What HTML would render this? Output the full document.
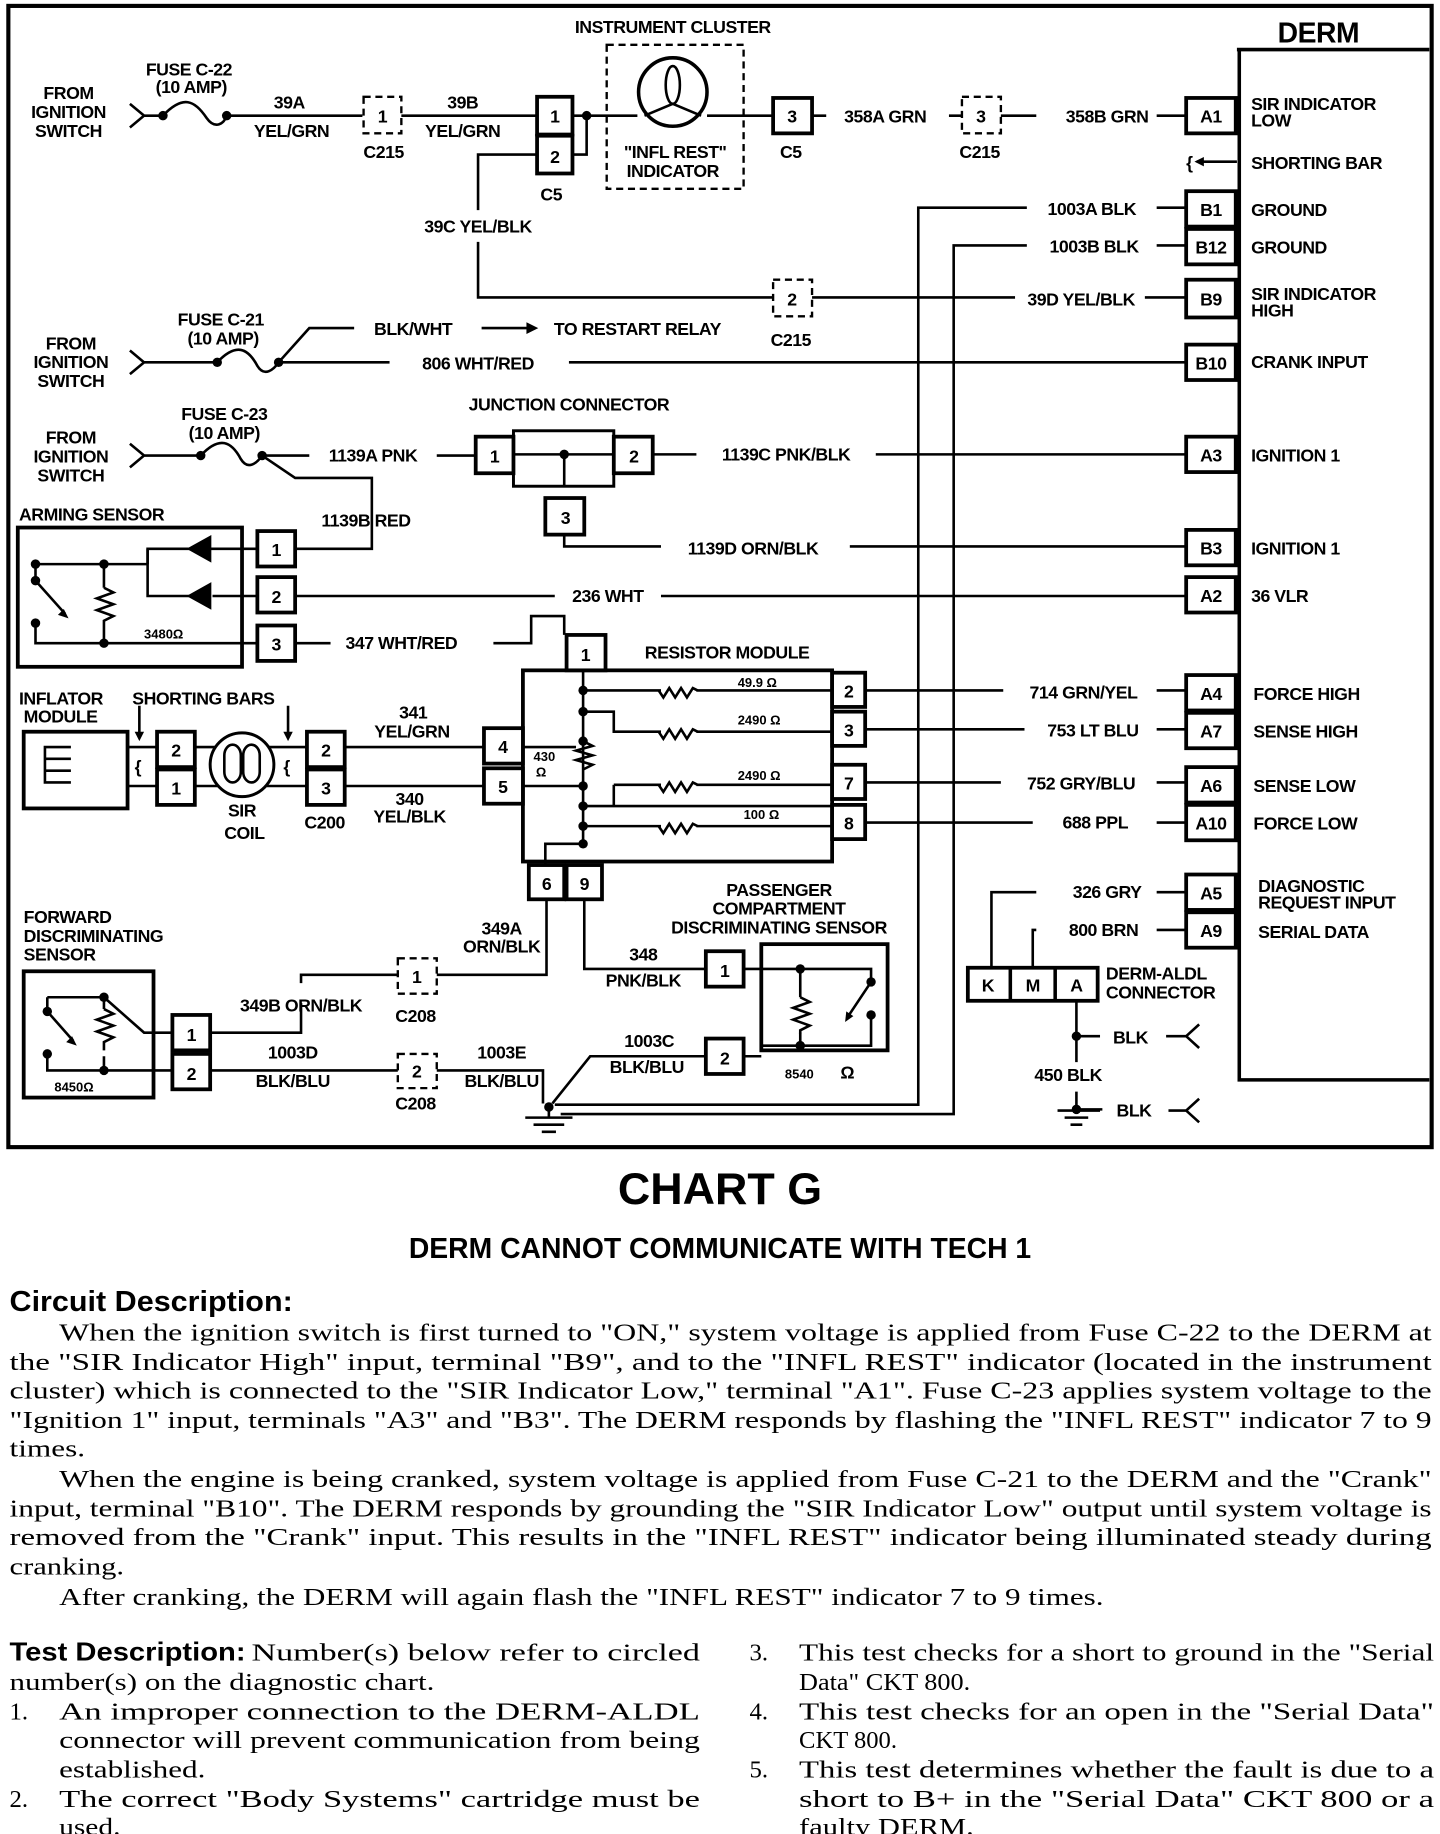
<!DOCTYPE html>
<html><head><meta charset="utf-8"><style>
html,body{margin:0;padding:0;background:#fff}
svg{display:block}
.t{font-family:"Liberation Sans",sans-serif;font-weight:bold;font-size:15px;letter-spacing:-0.4px;fill:#000}
.s{font-family:"Liberation Sans",sans-serif;font-weight:bold;font-size:12px;fill:#000}
.p{font-family:"Liberation Serif",serif;font-size:21px;fill:#000}
.w{stroke:#000;stroke-width:2.2;fill:none}
.bx{stroke:#000;stroke-width:3.2;fill:#fff}
.d{stroke:#000;stroke-width:2;fill:none;stroke-dasharray:6 4}
</style></head><body>
<svg width="1440" height="1834" viewBox="0 0 1220 1554" xmlns="http://www.w3.org/2000/svg">
<rect x="0" y="0" width="1220" height="1554" fill="#fff"/>
<rect x="7" y="5" width="1206" height="967" fill="none" stroke="#000" stroke-width="3.5"/>
<text x="1117" y="36" text-anchor="middle" class="t" style="font-size:24px">DERM</text>
<path d="M1048 42 H1211 M1050 42 V915 H1211" stroke="#000" stroke-width="3" fill="none"/>
<g class="t">
<text x="1060" y="93">SIR INDICATOR</text><text x="1060" y="107">LOW</text>
<text x="1060" y="143">SHORTING BAR</text>
<text x="1060" y="183">GROUND</text><text x="1060" y="215">GROUND</text>
<text x="1060" y="254">SIR INDICATOR</text><text x="1060" y="268">HIGH</text>
<text x="1060" y="312">CRANK INPUT</text>
<text x="1060" y="391">IGNITION 1</text>
<text x="1060" y="470">IGNITION 1</text>
<text x="1060" y="510">36 VLR</text>
<text x="1062" y="593">FORCE HIGH</text>
<text x="1062" y="625">SENSE HIGH</text>
<text x="1062" y="671">SENSE LOW</text>
<text x="1062" y="703">FORCE LOW</text>
<text x="1066" y="756">DIAGNOSTIC</text><text x="1066" y="770">REQUEST INPUT</text>
<text x="1066" y="795">SERIAL DATA</text>
</g>
<g>
<rect class="bx" x="1005" y="83" width="42" height="30"/>
<rect class="bx" x="1005" y="162" width="42" height="30"/>
<rect class="bx" x="1005" y="194" width="42" height="30"/>
<rect class="bx" x="1005" y="237" width="42" height="32"/>
<rect class="bx" x="1005" y="292" width="42" height="30"/>
<rect class="bx" x="1005" y="370" width="42" height="30"/>
<rect class="bx" x="1005" y="449" width="42" height="30"/>
<rect class="bx" x="1005" y="489" width="42" height="30"/>
<rect class="bx" x="1005" y="572" width="42" height="30"/>
<rect class="bx" x="1005" y="604" width="42" height="30"/>
<rect class="bx" x="1005" y="650" width="42" height="30"/>
<rect class="bx" x="1005" y="682" width="42" height="30"/>
<rect class="bx" x="1005" y="741" width="42" height="30"/>
<rect class="bx" x="1005" y="773" width="42" height="30"/>
</g>
<g class="t" text-anchor="middle">
<text x="1026" y="104">A1</text><text x="1026" y="183">B1</text><text x="1026" y="215">B12</text>
<text x="1026" y="259">B9</text><text x="1026" y="313">B10</text><text x="1026" y="391">A3</text>
<text x="1026" y="470">B3</text><text x="1026" y="510">A2</text><text x="1026" y="593">A4</text>
<text x="1026" y="625">A7</text><text x="1026" y="671">A6</text><text x="1026" y="703">A10</text>
<text x="1026" y="762">A5</text><text x="1026" y="794">A9</text>
</g>
<text x="1005" y="143" class="t">{</text>
<path class="w" d="M1014 137 H1048"/><path d="M1012 137 l8 -4 v8z"/>

<g class="t" text-anchor="middle">
<text x="58" y="84">FROM</text><text x="58" y="100">IGNITION</text><text x="58" y="116">SWITCH</text>
<text x="160" y="64">FUSE C-22</text><text x="162" y="79">(10 AMP)</text>
<text x="245" y="92">39A</text><text x="247" y="116">YEL/GRN</text>
<text x="325" y="134">C215</text>
<text x="392" y="92">39B</text><text x="392" y="116">YEL/GRN</text>
<text x="467" y="170">C5</text>
<text x="570" y="28">INSTRUMENT CLUSTER</text>
<text x="572" y="134">"INFL REST"</text><text x="570" y="150">INDICATOR</text>
<text x="670" y="134">C5</text>
<text x="750" y="104">358A GRN</text>
<text x="830" y="134">C215</text>
<text x="938" y="104">358B GRN</text>
<text x="405" y="197">39C YEL/BLK</text>
<text x="670" y="293">C215</text>
<text x="916" y="259">39D YEL/BLK</text>
<text x="925" y="182">1003A BLK</text>
<text x="927" y="214">1003B BLK</text>
</g>
<path class="w" d="M110 88 L122 98 L110 108 M122 98 H138"/>
<path class="w" d="M138 98 C155 80 165 85 175 100 C182 110 190 105 192 98"/>
<circle cx="138" cy="98" r="4"/><circle cx="192" cy="98" r="4"/>
<path class="w" d="M192 98 H307 M340 98 H455"/>
<path class="d" d="M308 82 H340 V113 H308Z"/><text x="324" y="104" class="t" text-anchor="middle">1</text>
<rect class="bx" x="455" y="82" width="30" height="32"/><rect class="bx" x="455" y="115" width="30" height="32"/>
<g class="t" text-anchor="middle"><text x="470" y="104">1</text><text x="470" y="138">2</text></g>
<path class="w" d="M485 98 H540 M485 131 H497 V98"/><circle cx="497" cy="98" r="4"/>
<path class="d" d="M514 38 H630 V160 H514Z"/>
<circle cx="570" cy="78" r="29" class="w" style="stroke-width:3"/>
<ellipse cx="570" cy="72" rx="6" ry="16" class="w"/>
<path class="w" d="M570 88 L546 98 M570 88 L594 98"/>
<path class="w" d="M599 98 H655"/>
<rect class="bx" x="655" y="83" width="33" height="30"/><text x="671" y="104" class="t" text-anchor="middle">3</text>
<path class="w" d="M688 98 H700 M804 98 H815 M848 98 H878 M980 98 H1005"/>
<path class="d" d="M815 82 H848 V113 H815Z"/><text x="831" y="104" class="t" text-anchor="middle">3</text>
<path class="w" d="M455 131 H405 V178 M405 205 V252 H655 M688 252 H860 M970 252 H1005"/>
<path class="d" d="M655 237 H688 V268 H655Z"/><text x="671" y="259" class="t" text-anchor="middle">2</text>
<path class="w" d="M870 176 H778 V936 H470"/>
<path class="w" d="M870 208 H808 V944 H475"/>
<path class="w" d="M980 176 H1005 M980 208 H1005"/>

<g class="t" text-anchor="middle">
<text x="60" y="296">FROM</text><text x="60" y="312">IGNITION</text><text x="60" y="328">SWITCH</text>
<text x="187" y="276">FUSE C-21</text><text x="189" y="292">(10 AMP)</text>
<text x="350" y="284">BLK/WHT</text>
<text x="540" y="284">TO RESTART RELAY</text>
<text x="405" y="313">806 WHT/RED</text>
</g>
<path class="w" d="M110 297 L122 307 L110 317 M122 307 H184"/>
<path class="w" d="M184 307 C200 290 210 295 218 310 C224 320 232 313 236 307"/>
<circle cx="184" cy="307" r="4"/><circle cx="236" cy="307" r="4"/>
<path class="w" d="M236 307 H330 M482 307 H1005 M236 307 L262 278 H300 M408 278 H448"/>
<path d="M456 278 l-10 -5 v10z"/>
<g class="t" text-anchor="middle">
<text x="60" y="376">FROM</text><text x="60" y="392">IGNITION</text><text x="60" y="408">SWITCH</text>
<text x="190" y="356">FUSE C-23</text><text x="190" y="372">(10 AMP)</text>
<text x="316" y="391">1139A PNK</text>
<text x="482" y="348">JUNCTION CONNECTOR</text>
<text x="666" y="390">1139C PNK/BLK</text>
<text x="638" y="470">1139D ORN/BLK</text>
<text x="310" y="446">1139B RED</text>
</g>
<path class="w" d="M110 376 L122 386 L110 396 M122 386 H170"/>
<path class="w" d="M170 386 C186 369 196 374 204 389 C210 399 218 392 222 386"/>
<circle cx="170" cy="386" r="4"/><circle cx="222" cy="386" r="4"/>
<path class="w" d="M222 386 H262 M370 386 H403 M222 386 L250 405 H315 V465 H250"/>
<rect x="435" y="365" width="85" height="47" class="w" style="stroke-width:2.5"/>
<path class="w" d="M435 385 H520 M478 385 V412 M478 452 V463 H560 M720 463 H1005 M553 385 H590 M742 385 H1005"/>
<circle cx="478" cy="385" r="4"/>
<rect class="bx" x="403" y="370" width="32" height="31"/><rect class="bx" x="520" y="370" width="33" height="31"/>
<rect class="bx" x="462" y="422" width="33" height="31"/>
<g class="t" text-anchor="middle"><text x="419" y="392">1</text><text x="537" y="392">2</text><text x="479" y="444">3</text></g>

<text x="16" y="441" class="t">ARMING SENSOR</text>
<rect x="15" y="447" width="190" height="118" fill="none" stroke="#000" stroke-width="3.2"/>
<path class="w" d="M218 505 H180 M160 505 H125 V465 M30 478 H125 M30 478 V490 M30 530 V545 H218 M88 478 V498 M88 530 V545"/>
<path d="M160 465 l18 -10 v20z M178 455 v20" stroke="#000" stroke-width="2"/>
<path d="M160 505 l18 -10 v20z M178 495 v20" stroke="#000" stroke-width="2"/>
<path class="w" d="M218 465 H125 V478"/>
<path class="w" d="M88 498 l8 4 l-14 5 l14 5 l-14 5 l14 5 l-8 4 v4"/>
<circle cx="30" cy="478" r="4"/><circle cx="30" cy="492" r="4"/><circle cx="30" cy="528" r="4"/><circle cx="88" cy="478" r="4"/><circle cx="88" cy="545" r="4"/>
<path class="w" d="M30 492 L55 520"/><path d="M58 524 l-9 -3 l5 -5z"/>
<text x="122" y="541" class="s" style="font-size:11px">3480Ω</text>
<rect class="bx" x="218" y="450" width="32" height="30"/><rect class="bx" x="218" y="489" width="32" height="30"/><rect class="bx" x="218" y="530" width="32" height="30"/>
<g class="t" text-anchor="middle"><text x="234" y="471">1</text><text x="234" y="511">2</text><text x="234" y="551">3</text>
<text x="515" y="510">236 WHT</text><text x="340" y="550">347 WHT/RED</text><text x="616" y="558">RESISTOR MODULE</text></g>
<path class="w" d="M250 505 H470 M560 505 H1005 M250 545 H280 M418 545 H450 V522 H478 V538"/>
<rect x="443" y="568" width="262" height="162" fill="none" stroke="#000" stroke-width="3.2"/>
<rect class="bx" x="480" y="538" width="33" height="30"/><text x="496" y="560" class="t" text-anchor="middle">1</text>
<path class="w" d="M494 568 V712 M494 585 H705 M494 603 H520 V620 H705 M494 683 H705 M494 700 H705 M494 715 H462 V733 M520 665 H705 M443 633 H488 M443 666 H494"/>
<path class="w" d="M520 683 V665"/>
<path class="w" d="M494 628 l8 4 l-14 4 l14 4 l-14 4 l14 4 l-8 4"/>
<g fill="#fff" stroke="none"><rect x="560" y="578" width="30" height="14"/><rect x="560" y="613" width="30" height="14"/><rect x="560" y="658" width="30" height="14"/><rect x="560" y="693" width="30" height="14"/></g>
<path class="w" d="M558 585 l4 6 l5 -8 l5 8 l5 -8 l5 8 l5 -8 l4 2 M558 620 l4 6 l5 -8 l5 8 l5 -8 l5 8 l5 -8 l4 2 M558 665 l4 6 l5 -8 l5 8 l5 -8 l5 8 l5 -8 l4 2 M558 700 l4 6 l5 -8 l5 8 l5 -8 l5 8 l5 -8 l4 2"/>
<g><circle cx="494" cy="585" r="4"/><circle cx="494" cy="603" r="4"/><circle cx="494" cy="628" r="4"/><circle cx="494" cy="666" r="4"/><circle cx="494" cy="683" r="4"/><circle cx="494" cy="700" r="4"/><circle cx="494" cy="715" r="4"/></g>
<g class="s" style="font-size:11px"><text x="625" y="582">49.9 Ω</text><text x="625" y="614">2490 Ω</text><text x="625" y="661">2490 Ω</text><text x="630" y="694">100 Ω</text>
<text x="452" y="645">430</text><text x="454" y="658">Ω</text></g>
<rect class="bx" x="705" y="570" width="28" height="29"/><rect class="bx" x="705" y="603" width="28" height="29"/>
<rect class="bx" x="705" y="648" width="28" height="29"/><rect class="bx" x="705" y="682" width="28" height="29"/>
<rect class="bx" x="410" y="617" width="33" height="30"/><rect class="bx" x="410" y="651" width="33" height="30"/>
<rect class="bx" x="448" y="733" width="30" height="29"/><rect class="bx" x="480" y="733" width="30" height="29"/>
<g class="t" text-anchor="middle"><text x="719" y="591">2</text><text x="719" y="624">3</text><text x="719" y="669">7</text><text x="719" y="703">8</text>
<text x="426" y="638">4</text><text x="426" y="672">5</text><text x="463" y="754">6</text><text x="495" y="754">9</text>
<text x="918" y="592">714 GRN/YEL</text><text x="926" y="624">753 LT BLU</text><text x="916" y="669">752 GRY/BLU</text><text x="928" y="702">688 PPL</text></g>
<path class="w" d="M733 585 H850 M733 618 H868 M733 663 H848 M733 697 H875 M980 585 H1005 M980 618 H1005 M980 663 H1005 M980 697 H1005"/>

<g class="t"><text x="16" y="597">INFLATOR</text><text x="20" y="612">MODULE</text><text x="112" y="597">SHORTING BARS</text></g>
<rect x="20" y="620" width="88" height="65" fill="none" stroke="#000" stroke-width="3.2"/>
<path class="w" d="M60 633 H38 V643 H60 M38 643 V653 H60 M38 653 V663 H60 M108 633 H133 M108 666 H133 M165 633 H260 M165 666 H260 M292 633 H410 M292 666 H410"/>
<path class="w" d="M118 598 V622 M244 598 V622"/><path d="M118 628 l-4 -8 h8z M244 628 l-4 -8 h8z"/>
<text x="114" y="655" class="t">{</text><text x="240" y="655" class="t">{</text>
<circle cx="205" cy="648" r="27" fill="#fff" stroke="#000" stroke-width="2.5"/>
<path class="w" d="M190 640 a7 9 0 0 1 14 0 v14 a7 9 0 0 1 -14 0z M206 640 a7 9 0 0 1 14 0 v14 a7 9 0 0 1 -14 0z"/>
<rect class="bx" x="133" y="620" width="32" height="30"/><rect class="bx" x="133" y="652" width="32" height="30"/>
<rect class="bx" x="260" y="620" width="32" height="30"/><rect class="bx" x="260" y="652" width="32" height="30"/>
<g class="t" text-anchor="middle"><text x="149" y="641">2</text><text x="149" y="673">1</text><text x="276" y="641">2</text><text x="276" y="673">3</text>
<text x="205" y="692">SIR</text><text x="207" y="711">COIL</text><text x="275" y="702">C200</text>
<text x="350" y="609">341</text><text x="349" y="625">YEL/GRN</text><text x="347" y="682">340</text><text x="347" y="697">YEL/BLK</text></g>

<g class="t"><text x="20" y="782">FORWARD</text><text x="20" y="798">DISCRIMINATING</text><text x="20" y="814">SENSOR</text></g>
<rect x="20" y="823" width="110" height="107" fill="none" stroke="#000" stroke-width="3.2"/>
<path class="w" d="M40 845 H88 V855 M88 895 V907 H40 V893 M88 845 L122 875 H146 M88 907 H146 M40 845 V857"/>
<path class="w" d="M88 855 l8 4 l-14 5 l14 5 l-14 5 l14 5 l-8 4 v7"/>
<circle cx="40" cy="857" r="4"/><circle cx="40" cy="893" r="4"/><circle cx="88" cy="845" r="4"/><circle cx="88" cy="907" r="4"/>
<path class="w" d="M40 857 L62 882"/><path d="M65 886 l-9 -3 l5 -5z"/>
<text x="46" y="925" class="s" style="font-size:11px">8450Ω</text>
<rect class="bx" x="146" y="860" width="32" height="30"/><rect class="bx" x="146" y="893" width="32" height="30"/>
<g class="t" text-anchor="middle"><text x="162" y="882">1</text><text x="162" y="915">2</text>
<text x="425" y="792">349A</text><text x="425" y="807">ORN/BLK</text><text x="255" y="857">349B ORN/BLK</text>
<text x="352" y="866">C208</text><text x="248" y="897">1003D</text><text x="248" y="921">BLK/BLU</text>
<text x="352" y="940">C208</text><text x="425" y="897">1003E</text><text x="425" y="921">BLK/BLU</text>
<text x="660" y="759">PASSENGER</text><text x="660" y="775">COMPARTMENT</text><text x="660" y="791">DISCRIMINATING SENSOR</text>
<text x="545" y="814">348</text><text x="545" y="836">PNK/BLK</text><text x="550" y="887">1003C</text><text x="548" y="909">BLK/BLU</text></g>
<path class="w" d="M463 762 V826 H370 M337 826 H255 V833 M255 850 V875 H178 M178 907 H337 M370 907 H460 V935"/>
<path class="d" d="M337 812 H370 V842 H337Z"/><text x="353" y="833" class="t" text-anchor="middle">1</text>
<path class="d" d="M337 893 H370 V922 H337Z"/><text x="353" y="913" class="t" text-anchor="middle">2</text>
<rect x="645" y="800" width="107" height="90" fill="none" stroke="#000" stroke-width="3.2"/>
<rect class="bx" x="598" y="806" width="32" height="30"/><rect class="bx" x="598" y="880" width="32" height="30"/>
<g class="t" text-anchor="middle"><text x="614" y="828">1</text><text x="614" y="902">2</text></g>
<path class="w" d="M495 762 V821 H598 M630 821 H738 V830 M630 895 H645 M598 895 H500 L468 935 M738 860 V886 H645 M678 821 V845 M678 875 V886"/>
<path class="w" d="M678 845 l8 4 l-14 5 l14 5 l-14 5 l14 5 l-8 4 v3"/>
<circle cx="678" cy="821" r="4"/><circle cx="678" cy="886" r="4"/><circle cx="738" cy="832" r="4"/><circle cx="738" cy="860" r="4"/>
<path class="w" d="M738 832 L718 862"/><path d="M716 866 l1 -9 l6 4z"/>
<text x="665" y="914" class="s" style="font-size:11px">8540</text><text x="712" y="914" class="t">Ω</text>
<circle cx="465" cy="938" r="4"/>
<path class="w" d="M465 938 V946 M445 947 H485 M452 953 H478 M459 959 H471"/>

<g class="t" text-anchor="middle"><text x="938" y="761">326 GRY</text><text x="935" y="793">800 BRN</text>
<text x="837" y="840">K</text><text x="875" y="840">M</text><text x="912" y="840">A</text>
<text x="905" y="916">450 BLK</text></g>
<g class="t"><text x="937" y="830">DERM-ALDL</text><text x="937" y="846">CONNECTOR</text><text x="943" y="884">BLK</text><text x="946" y="946">BLK</text></g>
<path class="w" d="M980 756 H1005 M980 788 H1005 M878 756 H840 V820 M878 788 H875 V820 M912 848 V900 M912 878 H932 M988 878 H1005 L1016 868 M1005 878 L1016 888 M912 925 V940 M912 940 H934 M896 941 H932 M902 947 H922 M907 953 H917 M990 941 H1005 L1016 931 M1005 941 L1016 951"/>
<circle cx="912" cy="878" r="4"/><circle cx="912" cy="940" r="4"/>
<rect x="820" y="820" width="110" height="28" fill="none" stroke="#000" stroke-width="3.2"/>
<path d="M856 820 V848 M894 820 V848" stroke="#000" stroke-width="3"/>

<text x="610" y="1020" text-anchor="middle" class="t" style="font-size:38px;letter-spacing:0">CHART G</text>
<text x="610" y="1066" text-anchor="middle" class="t" style="font-size:24px;letter-spacing:0">DERM CANNOT COMMUNICATE WITH TECH 1</text>
<text x="8" y="1111" class="t" style="font-size:24px;letter-spacing:0" textLength="240" lengthAdjust="spacingAndGlyphs">Circuit Description:</text>
<g class="p">
<text x="50" y="1136" textLength="1163" lengthAdjust="spacingAndGlyphs">When the ignition switch is first turned to "ON," system voltage is applied from Fuse C-22 to the DERM at</text>
<text x="8" y="1161" textLength="1205" lengthAdjust="spacingAndGlyphs">the "SIR Indicator High" input, terminal "B9", and to the "INFL REST" indicator (located in the instrument</text>
<text x="8" y="1185" textLength="1205" lengthAdjust="spacingAndGlyphs">cluster) which is connected to the "SIR Indicator Low," terminal "A1".  Fuse C-23 applies system voltage to the</text>
<text x="8" y="1210" textLength="1205" lengthAdjust="spacingAndGlyphs">"Ignition 1" input, terminals "A3" and "B3".  The DERM  responds by flashing the "INFL REST" indicator 7 to 9</text>
<text x="8" y="1234" textLength="64" lengthAdjust="spacingAndGlyphs">times.</text>
<text x="50" y="1260" textLength="1163" lengthAdjust="spacingAndGlyphs">When the engine is being cranked, system voltage is applied from Fuse C-21 to the DERM and the "Crank"</text>
<text x="8" y="1285" textLength="1205" lengthAdjust="spacingAndGlyphs">input, terminal "B10".  The DERM responds by grounding the "SIR Indicator Low" output until system voltage is</text>
<text x="8" y="1309" textLength="1205" lengthAdjust="spacingAndGlyphs">removed from the "Crank" input.  This results in the "INFL REST" indicator being illuminated steady during</text>
<text x="8" y="1334" textLength="97" lengthAdjust="spacingAndGlyphs">cranking.</text>
<text x="50" y="1360" textLength="885" lengthAdjust="spacingAndGlyphs">After cranking, the DERM will again flash the "INFL REST" indicator 7 to 9 times.</text>
</g>
<text x="8" y="1407" class="t" style="font-size:22px;letter-spacing:0" textLength="200" lengthAdjust="spacingAndGlyphs">Test Description:</text>
<g class="p">
<text x="213" y="1407" textLength="380" lengthAdjust="spacingAndGlyphs">Number(s) below refer to circled</text>
<text x="8" y="1432" textLength="360" lengthAdjust="spacingAndGlyphs">number(s) on the diagnostic chart.</text>
<text x="8" y="1457">1.</text><text x="50" y="1457" textLength="543" lengthAdjust="spacingAndGlyphs">An improper connection to the DERM-ALDL</text>
<text x="50" y="1481" textLength="543" lengthAdjust="spacingAndGlyphs">connector will prevent communication from being</text>
<text x="50" y="1506" textLength="124" lengthAdjust="spacingAndGlyphs">established.</text>
<text x="8" y="1531">2.</text><text x="50" y="1531" textLength="543" lengthAdjust="spacingAndGlyphs">The correct "Body Systems" cartridge must be</text>
<text x="50" y="1555" textLength="52" lengthAdjust="spacingAndGlyphs">used.</text>
<text x="635" y="1407">3.</text><text x="677" y="1407" textLength="538" lengthAdjust="spacingAndGlyphs">This test checks for a short to ground in the "Serial</text>
<text x="677" y="1432" textLength="145" lengthAdjust="spacingAndGlyphs">Data" CKT 800.</text>
<text x="635" y="1457">4.</text><text x="677" y="1457" textLength="538" lengthAdjust="spacingAndGlyphs">This test checks for an open in the "Serial Data"</text>
<text x="677" y="1481" textLength="83" lengthAdjust="spacingAndGlyphs">CKT 800.</text>
<text x="635" y="1506">5.</text><text x="677" y="1506" textLength="538" lengthAdjust="spacingAndGlyphs">This test determines whether the fault is due to a</text>
<text x="677" y="1531" textLength="538" lengthAdjust="spacingAndGlyphs">short to B+ in the "Serial Data" CKT 800 or a</text>
<text x="677" y="1555" textLength="148" lengthAdjust="spacingAndGlyphs">faulty DERM.</text>
</g>
</svg>
</body></html>
